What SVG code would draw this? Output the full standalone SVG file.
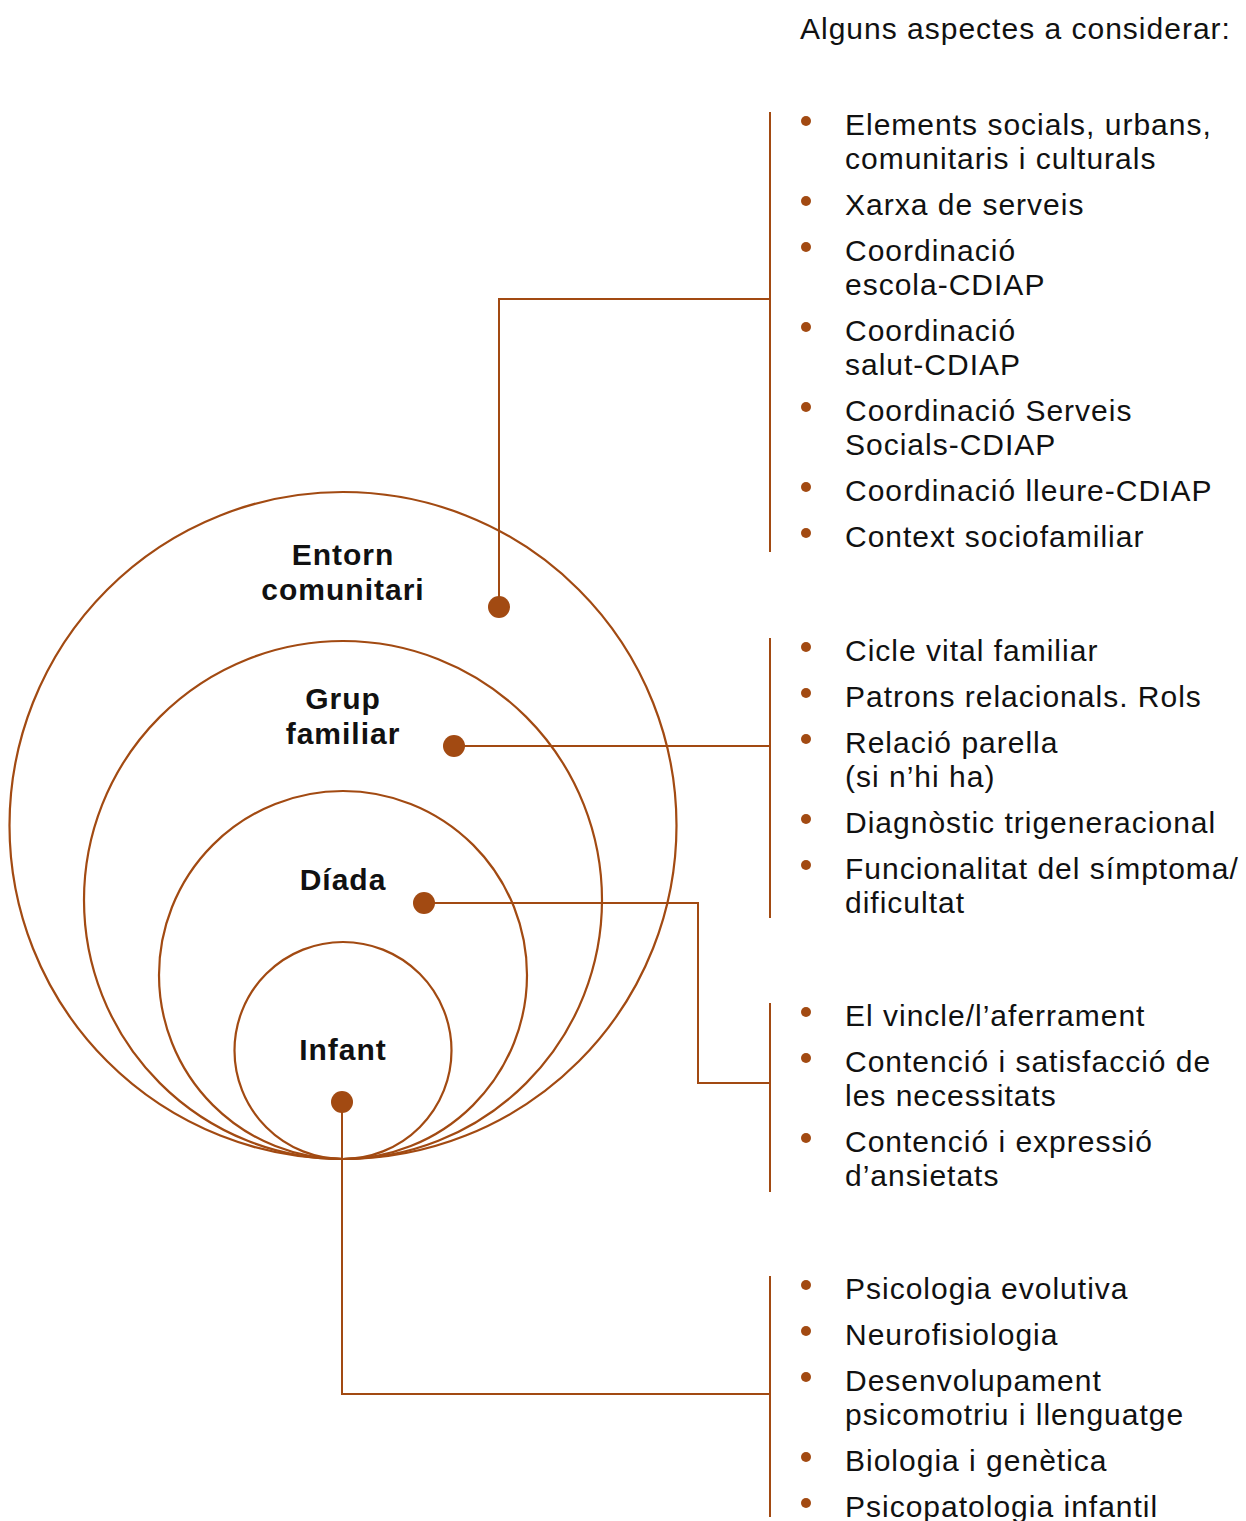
<svg xmlns="http://www.w3.org/2000/svg" width="1246" height="1521" viewBox="0 0 1246 1521">
<style>
.ring{fill:none;stroke:#a24a12;stroke-width:2.2}
.con{fill:none;stroke:#a24a12;stroke-width:2}
.dot{fill:#a24a12}
.b{fill:#a24a12}
.t{font-family:"Liberation Sans",Arial,sans-serif;font-size:30px;letter-spacing:1px;fill:#111}
.lbl{font-family:"Liberation Sans",Arial,sans-serif;font-size:30px;letter-spacing:1px;font-weight:bold;fill:#111;text-anchor:middle}
</style>
<rect width="1246" height="1521" fill="#fff"/>
<g id="entorn"><circle class="ring" cx="343" cy="825.5" r="333.5"/><text class="lbl" x="343" y="565">Entorn</text><text class="lbl" x="343" y="600">comunitari</text></g>
<g id="grup"><circle class="ring" cx="343" cy="900" r="259"/><text class="lbl" x="343" y="709">Grup</text><text class="lbl" x="343" y="744">familiar</text></g>
<g id="diada"><circle class="ring" cx="343" cy="975" r="184"/><text class="lbl" x="343" y="890">Díada</text></g>
<g id="infant"><circle class="ring" cx="343" cy="1050.5" r="108.5"/><text class="lbl" x="343" y="1060">Infant</text></g>
<g id="connectors">
<path class="con" d="M499 607V299H770M770 112V552"/>
<path class="con" d="M454 746H770M770 638V918"/>
<path class="con" d="M424 903H698V1083H770M770 1003V1192"/>
<path class="con" d="M342 1102V1394H770M770 1276V1517"/>
<circle class="dot" cx="499" cy="607" r="11"/>
<circle class="dot" cx="454" cy="746" r="11"/>
<circle class="dot" cx="424" cy="903" r="11"/>
<circle class="dot" cx="342" cy="1102" r="11"/>
</g>
<g id="header"><text class="t" x="800" y="39">Alguns aspectes a considerar:</text></g>
<g id="list-entorn">
<circle class="b" cx="806" cy="121" r="5"/><text class="t" x="845" y="135">Elements socials, urbans,</text><text class="t" x="845" y="169">comunitaris i culturals</text>
<circle class="b" cx="806" cy="201" r="5"/><text class="t" x="845" y="215">Xarxa de serveis</text>
<circle class="b" cx="806" cy="247" r="5"/><text class="t" x="845" y="261">Coordinació</text><text class="t" x="845" y="295">escola-CDIAP</text>
<circle class="b" cx="806" cy="327" r="5"/><text class="t" x="845" y="341">Coordinació</text><text class="t" x="845" y="375">salut-CDIAP</text>
<circle class="b" cx="806" cy="407" r="5"/><text class="t" x="845" y="421">Coordinació Serveis</text><text class="t" x="845" y="455">Socials-CDIAP</text>
<circle class="b" cx="806" cy="487" r="5"/><text class="t" x="845" y="501">Coordinació lleure-CDIAP</text>
<circle class="b" cx="806" cy="533" r="5"/><text class="t" x="845" y="547">Context sociofamiliar</text>
</g>
<g id="list-grup">
<circle class="b" cx="806" cy="647" r="5"/><text class="t" x="845" y="661">Cicle vital familiar</text>
<circle class="b" cx="806" cy="693" r="5"/><text class="t" x="845" y="707">Patrons relacionals. Rols</text>
<circle class="b" cx="806" cy="739" r="5"/><text class="t" x="845" y="753">Relació parella</text><text class="t" x="845" y="787">(si n’hi ha)</text>
<circle class="b" cx="806" cy="819" r="5"/><text class="t" x="845" y="833">Diagnòstic trigeneracional</text>
<circle class="b" cx="806" cy="865" r="5"/><text class="t" x="845" y="879">Funcionalitat del símptoma/</text><text class="t" x="845" y="913">dificultat</text>
</g>
<g id="list-diada">
<circle class="b" cx="806" cy="1012" r="5"/><text class="t" x="845" y="1026">El vincle/l’aferrament</text>
<circle class="b" cx="806" cy="1058" r="5"/><text class="t" x="845" y="1072">Contenció i satisfacció de</text><text class="t" x="845" y="1106">les necessitats</text>
<circle class="b" cx="806" cy="1138" r="5"/><text class="t" x="845" y="1152">Contenció i expressió</text><text class="t" x="845" y="1186">d’ansietats</text>
</g>
<g id="list-infant">
<circle class="b" cx="806" cy="1285" r="5"/><text class="t" x="845" y="1299">Psicologia evolutiva</text>
<circle class="b" cx="806" cy="1331" r="5"/><text class="t" x="845" y="1345">Neurofisiologia</text>
<circle class="b" cx="806" cy="1377" r="5"/><text class="t" x="845" y="1391">Desenvolupament</text><text class="t" x="845" y="1425">psicomotriu i llenguatge</text>
<circle class="b" cx="806" cy="1457" r="5"/><text class="t" x="845" y="1471">Biologia i genètica</text>
<circle class="b" cx="806" cy="1503" r="5"/><text class="t" x="845" y="1517">Psicopatologia infantil</text>
</g>
</svg>
